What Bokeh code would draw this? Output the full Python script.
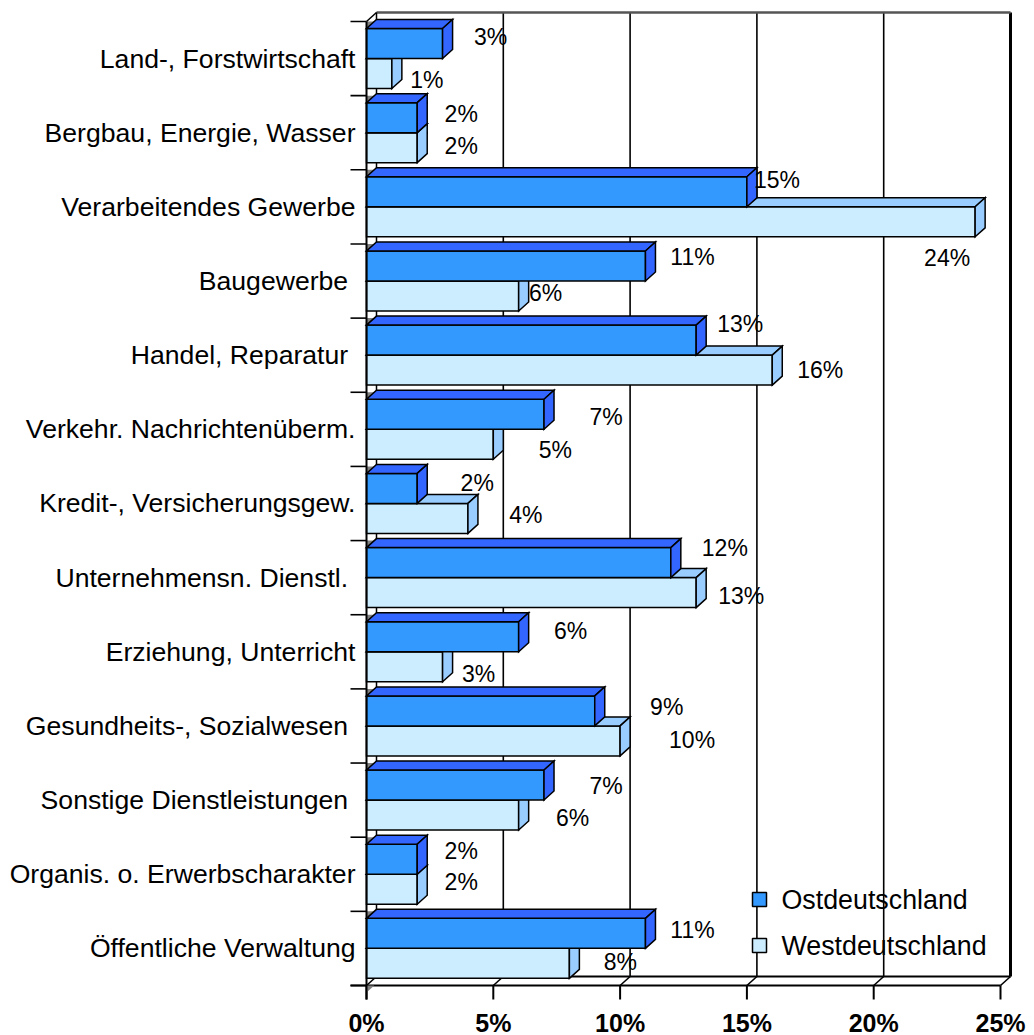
from bokeh.plotting import figure
from bokeh.models import Range1d, ColumnDataSource
from bokeh.embed import file_html
from bokeh.resources import INLINE
from bokeh.core.properties import value

# ---------------- data ----------------
categories = [
    "Land-, Forstwirtschaft",
    "Bergbau, Energie, Wasser",
    "Verarbeitendes Gewerbe",
    "Baugewerbe ",
    "Handel, Reparatur ",
    "Verkehr. Nachrichtenüberm.",
    "Kredit-, Versicherungsgew.",
    "Unternehmensn. Dienstl. ",
    "Erziehung, Unterricht",
    "Gesundheits-, Sozialwesen ",
    "Sonstige Dienstleistungen ",
    "Organis. o. Erwerbscharakter",
    "Öffentliche Verwaltung",
]
ost = [3, 2, 15, 11, 13, 7, 2, 12, 6, 9, 7, 2, 11]
west = [1, 2, 24, 6, 16, 5, 4, 13, 3, 10, 6, 2, 8]
series_names = ["Ostdeutschland", "Westdeutschland"]
x_ticks = [0, 5, 10, 15, 20, 25]
x_tick_labels = ["0%", "5%", "10%", "15%", "20%", "25%"]

# label placement offsets (pixels, relative to bar end / bar centre) - styling
ost_label_dx = [48, 44, 30, 47, 44, 62, 60, 54, 52, 72, 62, 44, 47]
ost_label_dy = [-6, -4, -12, -9, -16, 3, -5, -15, -6, -4, 1, -8, -3]
west_label_dx = [35, 44, -28, 27, 48, 62, 58, 45, 36, 72, 54, 44, 51]
west_label_dy = [7, -2, 36, -3, 0, 6, -3, 3, 7, -1, 3, -7, -1]

# ---------------- geometry ----------------
W, H = 1034, 1035
X0_PX = 366          # x of 0% (front) inside the figure
FLOOR_PX = 985       # y of front floor line inside the figure
PX_PER_PCT = 25.36
PX_PER_CAT = 74.154
N = len(categories)

def dxp(px):
    return px / PX_PER_PCT

def dyp(px):
    return px / PX_PER_CAT

DX, DY = dxp(10), dyp(9)          # 3-D depth offset
GAP, BAR = dyp(7), dyp(30)

OST_FRONT, OST_SIDE = "#3399FF", "#3366FF"
WEST_FRONT, WEST_SIDE = "#CCECFF", "#99CCFF"
FONT = "Liberation Sans"

p = figure(width=W, height=H, output_backend="svg", toolbar_location=None,
           x_range=Range1d(-X0_PX / PX_PER_PCT, (W - X0_PX) / PX_PER_PCT),
           y_range=Range1d(-(H - FLOOR_PX) / PX_PER_CAT, FLOOR_PX / PX_PER_CAT),
           min_border=0, outline_line_color=None)
p.axis.visible = False
p.grid.visible = False
p.background_fill_color = "white"
p.border_fill_color = "white"

# ---------------- legend text (under gridlines, as in original) ----------------
leg_x = dxp(393)
leg_y = [dyp(86), dyp(40)]
p.text(x=[leg_x] * 2, y=leg_y, text=series_names, x_offset=22,
       text_font=value(FONT), text_font_size="26.8px", text_align="left",
       text_baseline="middle", text_color="black")

# ---------------- back wall / floor lines ----------------
top_back = N + DY
gx = [g + DX for g in x_ticks[1:-1]]
p.segment(x0=gx, y0=[DY] * len(gx), x1=gx, y1=[top_back] * len(gx),
          line_color="black", line_width=1.6)
# right edge of back wall
p.segment(x0=[x_ticks[-1] + DX], y0=[DY], x1=[x_ticks[-1] + DX], y1=[top_back],
          line_color="black", line_width=3)
# top edge of back wall
p.segment(x0=[DX], y0=[top_back], x1=[x_ticks[-1] + DX], y1=[top_back],
          line_color="#555555", line_width=2.5)
# left back edge
p.segment(x0=[DX], y0=[DY], x1=[DX], y1=[top_back], line_color="black", line_width=1.5)
# floor: front line, back line, diagonals
p.segment(x0=[-dxp(16), DX], y0=[0, DY], x1=[x_ticks[-1], x_ticks[-1] + DX], y1=[0, DY],
          line_color="black", line_width=2)
p.segment(x0=x_ticks, y0=[0] * len(x_ticks), x1=[g + DX for g in x_ticks],
          y1=[DY] * len(x_ticks), line_color="black", line_width=1.6)
# bottom ticks
p.segment(x0=x_ticks, y0=[0] * len(x_ticks), x1=x_ticks, y1=[-dyp(14)] * len(x_ticks),
          line_color="black", line_width=2)

# gray corner triangles at every category boundary
tri_xs, tri_ys = [], []
for b in range(N + 1):
    yb = N - b
    tri_xs.append([0, DX * 7 / 9, 0])
    tri_ys.append([yb, yb, yb - GAP])
p.patches(tri_xs, tri_ys, fill_color="#808080", line_color=None)

# ---------------- 3-D bars ----------------
xs, ys, fills = [], [], []

def add_bar(v, yt, yb, front, side):
    xs.append([0, v, v, 0]); ys.append([yb, yb, yt, yt]); fills.append(front)
    xs.append([0, v, v + DX, DX]); ys.append([yt, yt, yt + DY, yt + DY]); fills.append(side)
    xs.append([v, v + DX, v + DX, v]); ys.append([yb, yb + DY, yt + DY, yt]); fills.append(side)

ost_c, west_c = [], []
for k in range(N):
    top = N - k
    o_top = top - GAP
    o_bot = o_top - BAR
    w_top = o_bot
    w_bot = w_top - BAR
    add_bar(west[k], w_top, w_bot, WEST_FRONT, WEST_SIDE)
    add_bar(ost[k], o_top, o_bot, OST_FRONT, OST_SIDE)
    ost_c.append((o_top + o_bot) / 2)
    west_c.append((w_top + w_bot) / 2)

p.patches(xs, ys, fill_color=fills, line_color="black", line_width=1.5,
          line_join="miter")

# front-left axis line and category boundary ticks
p.segment(x0=[0], y0=[-dyp(14)], x1=[0], y1=[N], line_color="black", line_width=2)
p.segment(x0=[0], y0=[N], x1=[DX], y1=[top_back], line_color="black", line_width=1.5)
bnd = list(range(N + 1))
p.segment(x0=[-dxp(16)] * len(bnd), y0=bnd, x1=[0] * len(bnd), y1=bnd,
          line_color="black", line_width=1.6)

# legend squares
p.scatter(x=[leg_x] * 2, y=leg_y, marker="square", size=14,
          fill_color=[OST_FRONT, WEST_FRONT], line_color="black", line_width=1.5)

# ---------------- texts ----------------
cat_y = [N - k - 0.5 for k in range(N)]
p.text(x=[0] * N, y=cat_y, text=categories, x_offset=-11,
       text_font=value(FONT), text_font_size="26.6px", text_align="right",
       text_baseline="middle", text_color="black")

lab = ColumnDataSource(dict(
    x=ost + west,
    y=ost_c + west_c,
    t=[f"{v}%" for v in ost] + [f"{v}%" for v in west],
    dx=ost_label_dx + west_label_dx,
    dy=ost_label_dy + west_label_dy,
))
p.text(x="x", y="y", text="t", x_offset="dx", y_offset="dy", source=lab,
       text_font=value(FONT), text_font_size="23px", text_align="center",
       text_baseline="middle", text_color="black")

p.text(x=x_ticks, y=[0] * len(x_ticks), text=x_tick_labels, y_offset=37,
       text_font=value(FONT), text_font_size="25px", text_font_style="bold",
       text_align="center", text_baseline="middle", text_color="black")

open("out.html", "w").write(file_html(p, INLINE))
